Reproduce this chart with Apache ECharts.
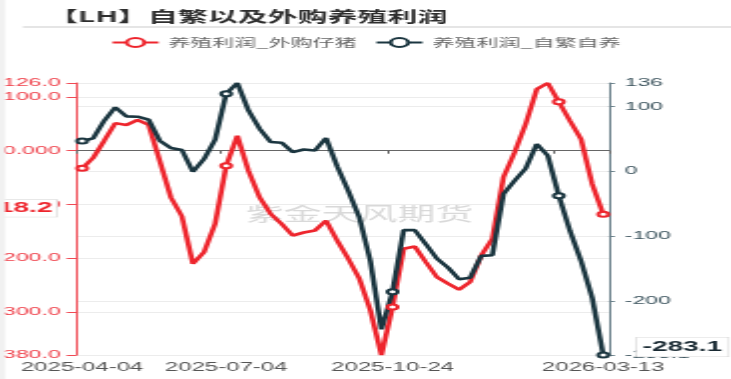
<!DOCTYPE html>
<html><head><meta charset="utf-8">
<script src="https://cdn.jsdelivr.net/npm/echarts@6/dist/echarts.min.js"></script>
<style>
html,body{margin:0;padding:0;background:#fff;overflow:hidden;width:731px;height:379px;}
#c{position:absolute;left:0;top:0;width:366px;height:379px;transform:scaleX(1.99727);transform-origin:0 0;}
</style></head><body><div id="c"></div>
<script>
// weekly dates (holiday weeks 2025-10-03 and 2026-02-20 absent)
const dates = ['2025-04-04','2025-04-11','2025-04-18','2025-04-25','2025-05-02','2025-05-09','2025-05-16','2025-05-23','2025-05-30','2025-06-06','2025-06-13','2025-06-20','2025-06-27','2025-07-04','2025-07-11','2025-07-18','2025-07-25','2025-08-01','2025-08-08','2025-08-15','2025-08-22','2025-08-29','2025-09-05','2025-09-12','2025-09-19','2025-09-26','2025-10-10','2025-10-17','2025-10-24','2025-10-31','2025-11-07','2025-11-14','2025-11-21','2025-11-28','2025-12-05','2025-12-12','2025-12-19','2025-12-26','2026-01-02','2026-01-09','2026-01-16','2026-01-23','2026-01-30','2026-02-06','2026-02-13','2026-02-27','2026-03-06','2026-03-13'];
// 养殖利润_外购仔猪 (left axis)
const profitBought = [-32.8,-13.5,18.6,51.4,47.7,57.0,48.2,-18.6,-86.6,-121.9,-210.2,-188.7,-136.0,-27.8,27.8,-37.1,-86.6,-117.4,-136.0,-157.7,-152.1,-148.4,-129.9,-167.0,-200.9,-238.0,-296.8,-380.0,-290.7,-182.4,-178.1,-207.2,-235.1,-247.3,-258.4,-244.3,-194.8,-163.8,-49.5,-3.2,49.5,114.5,126.0,90.9,55.7,21.7,-61.8,-118.2];
// 养殖利润_自繁自养 (right axis)
const profitSelf = [46.6,50.6,77.9,98.5,84.6,84.1,79.5,47.1,35.8,32.7,-0.8,18.8,48.6,119.6,136.0,93.8,65.6,45.1,44.0,29.6,33.6,32.1,51.2,7.7,-30.1,-71.3,-138.1,-243.5,-185.5,-90.7,-90.7,-112.3,-134.6,-148.5,-166.4,-163.9,-130.4,-129.3,-35.2,-14.7,4.3,42.0,23.9,-37.8,-91.8,-138.1,-194.8,-283.1];
const seriesNames = ['养殖利润_外购仔猪','养殖利润_自繁自养'];
const xLabelIdx = [0,13,28,47];
const tickIdx = [0,13,28,43];
const markIdx = [0,13,28,43,47];
const titleText = '【LH】自繁以及外购养殖利润';
const watermark = '紫金天风期货';

const RED = '#ee252d', DARK = '#1b3640';
const FONT = '"Liberation Sans","Noto Sans CJK SC",sans-serif';
function withMarks(arr){ return arr.map((v,i)=> markIdx.includes(i) ? v : {value:v, symbol:'none'}); }
const last = a => a[a.length-1];

const chart = echarts.init(document.getElementById('c'), null, {renderer:'canvas', width:366, height:379});
chart.setOption({
  animation:false,
  backgroundColor:'#fff',
  textStyle:{fontFamily:FONT},
  title:{text:titleText, left:19, top:4, textStyle:{fontSize:15, fontWeight:'bold', color:'#2e2e2e', fontFamily:'"Noto Sans CJK SC",sans-serif'}},
  legend:{top:32, left:'center', itemWidth:23, itemHeight:11, itemGap:9,
    textStyle:{fontSize:11, color:'#666', fontFamily:'"Noto Sans CJK SC",sans-serif'}, data:seriesNames},
  graphic:[
    {type:'rect', silent:true, z:100, shape:{x:0,y:0,width:2.6,height:379}, style:{fill:'#f1f1f1'}},
    {type:'line', silent:true, shape:{x1:11.5,y1:27,x2:366,y2:27}, style:{stroke:'#dcdcdc', lineWidth:1.5}},
    {type:'text', silent:true, z:-5, left:123, top:204, style:{text:watermark, font:'19px "Noto Sans CJK SC"', fill:'rgba(160,160,160,0.4)'}}
  ],
  grid:{left:38.3, right:61.2, top:83, bottom:24, containLabel:false, outerBoundsMode:'none'},
  xAxis:[
    {type:'category', data:dates, position:'bottom', boundaryGap:true,
      axisLine:{show:false, onZero:false}, axisTick:{show:false}, splitLine:{show:false},
      axisLabel:{interval:(i)=>xLabelIdx.includes(i), color:'#555', fontSize:12, margin:7, hideOverlap:false}},
    {type:'category', data:dates, position:'top', boundaryGap:true,
      axisLine:{show:true, onZero:true, lineStyle:{color:'#666', width:1}},
      axisTick:{show:true, inside:true, length:3, interval:(i)=>tickIdx.includes(i), lineStyle:{color:'#666'}},
      axisLabel:{show:false}, splitLine:{show:false}}
  ],
  yAxis:[
    {type:'value', position:'left', min:'dataMin', max:'dataMax', splitNumber:5,
      axisLine:{show:true, lineStyle:{color:'#f04a54', width:1}},
      axisTick:{show:true, length:5, lineStyle:{color:'#f04a54'}},
      axisLabel:{color:'#ef3d47', fontSize:11.5, margin:8, showMinLabel:true, showMaxLabel:true,
        formatter:(v)=> v===0 ? '0.000' : v.toFixed(1)},
      splitLine:{show:true, lineStyle:{color:'#ececec', width:1}}},
    {type:'value', position:'right', min:'dataMin', max:'dataMax', splitNumber:5,
      axisLine:{show:true, lineStyle:{color:'#6a808a', width:1}},
      axisTick:{show:true, length:3, lineStyle:{color:'#6a808a'}},
      axisLabel:{color:'#3a525c', fontSize:11.5, margin:8, showMinLabel:true, showMaxLabel:true},
      splitLine:{show:true, lineStyle:{color:'#ececec', width:1}}}
  ],
  series:[
    {name:seriesNames[0], type:'line', xAxisIndex:0, yAxisIndex:0, data:withMarks(profitBought),
      symbol:'emptyCircle', symbolSize:5, showAllSymbol:true,
      lineStyle:{color:RED, width:2.6}, itemStyle:{color:RED, borderWidth:1},
      markLine:{silent:true, symbol:['none','none'], animation:false, z:10,
        lineStyle:{color:'rgba(0,0,0,0)', width:1, type:'solid'},
        label:{show:true, position:'start', distance:10, formatter:(p)=>String(p.value),
          color:RED, fontSize:14, fontWeight:'bold', backgroundColor:'#fff', borderColor:'#d8d8d8', borderWidth:0.6,
          padding:[2,2,1,2], offset:[0,-6]},
        data:[{yAxis:last(profitBought)}]}},
    {name:seriesNames[1], type:'line', xAxisIndex:0, yAxisIndex:1, data:withMarks(profitSelf),
      symbol:'emptyCircle', symbolSize:5, showAllSymbol:true,
      lineStyle:{color:DARK, width:2.6}, itemStyle:{color:DARK, borderWidth:1},
      markLine:{silent:true, symbol:['none','none'], animation:false, z:10,
        lineStyle:{color:'rgba(0,0,0,0)', width:1, type:'solid'},
        label:{show:true, position:'end', distance:14, formatter:(p)=>String(p.value),
          color:'#1a2a33', fontSize:14, fontWeight:'bold', backgroundColor:'#fff', borderColor:'#d8d8d8', borderWidth:0.6,
          padding:[3,3,2,3], offset:[0,-8]},
        data:[{yAxis:last(profitSelf)}]}}
  ]
});
</script></body></html>
